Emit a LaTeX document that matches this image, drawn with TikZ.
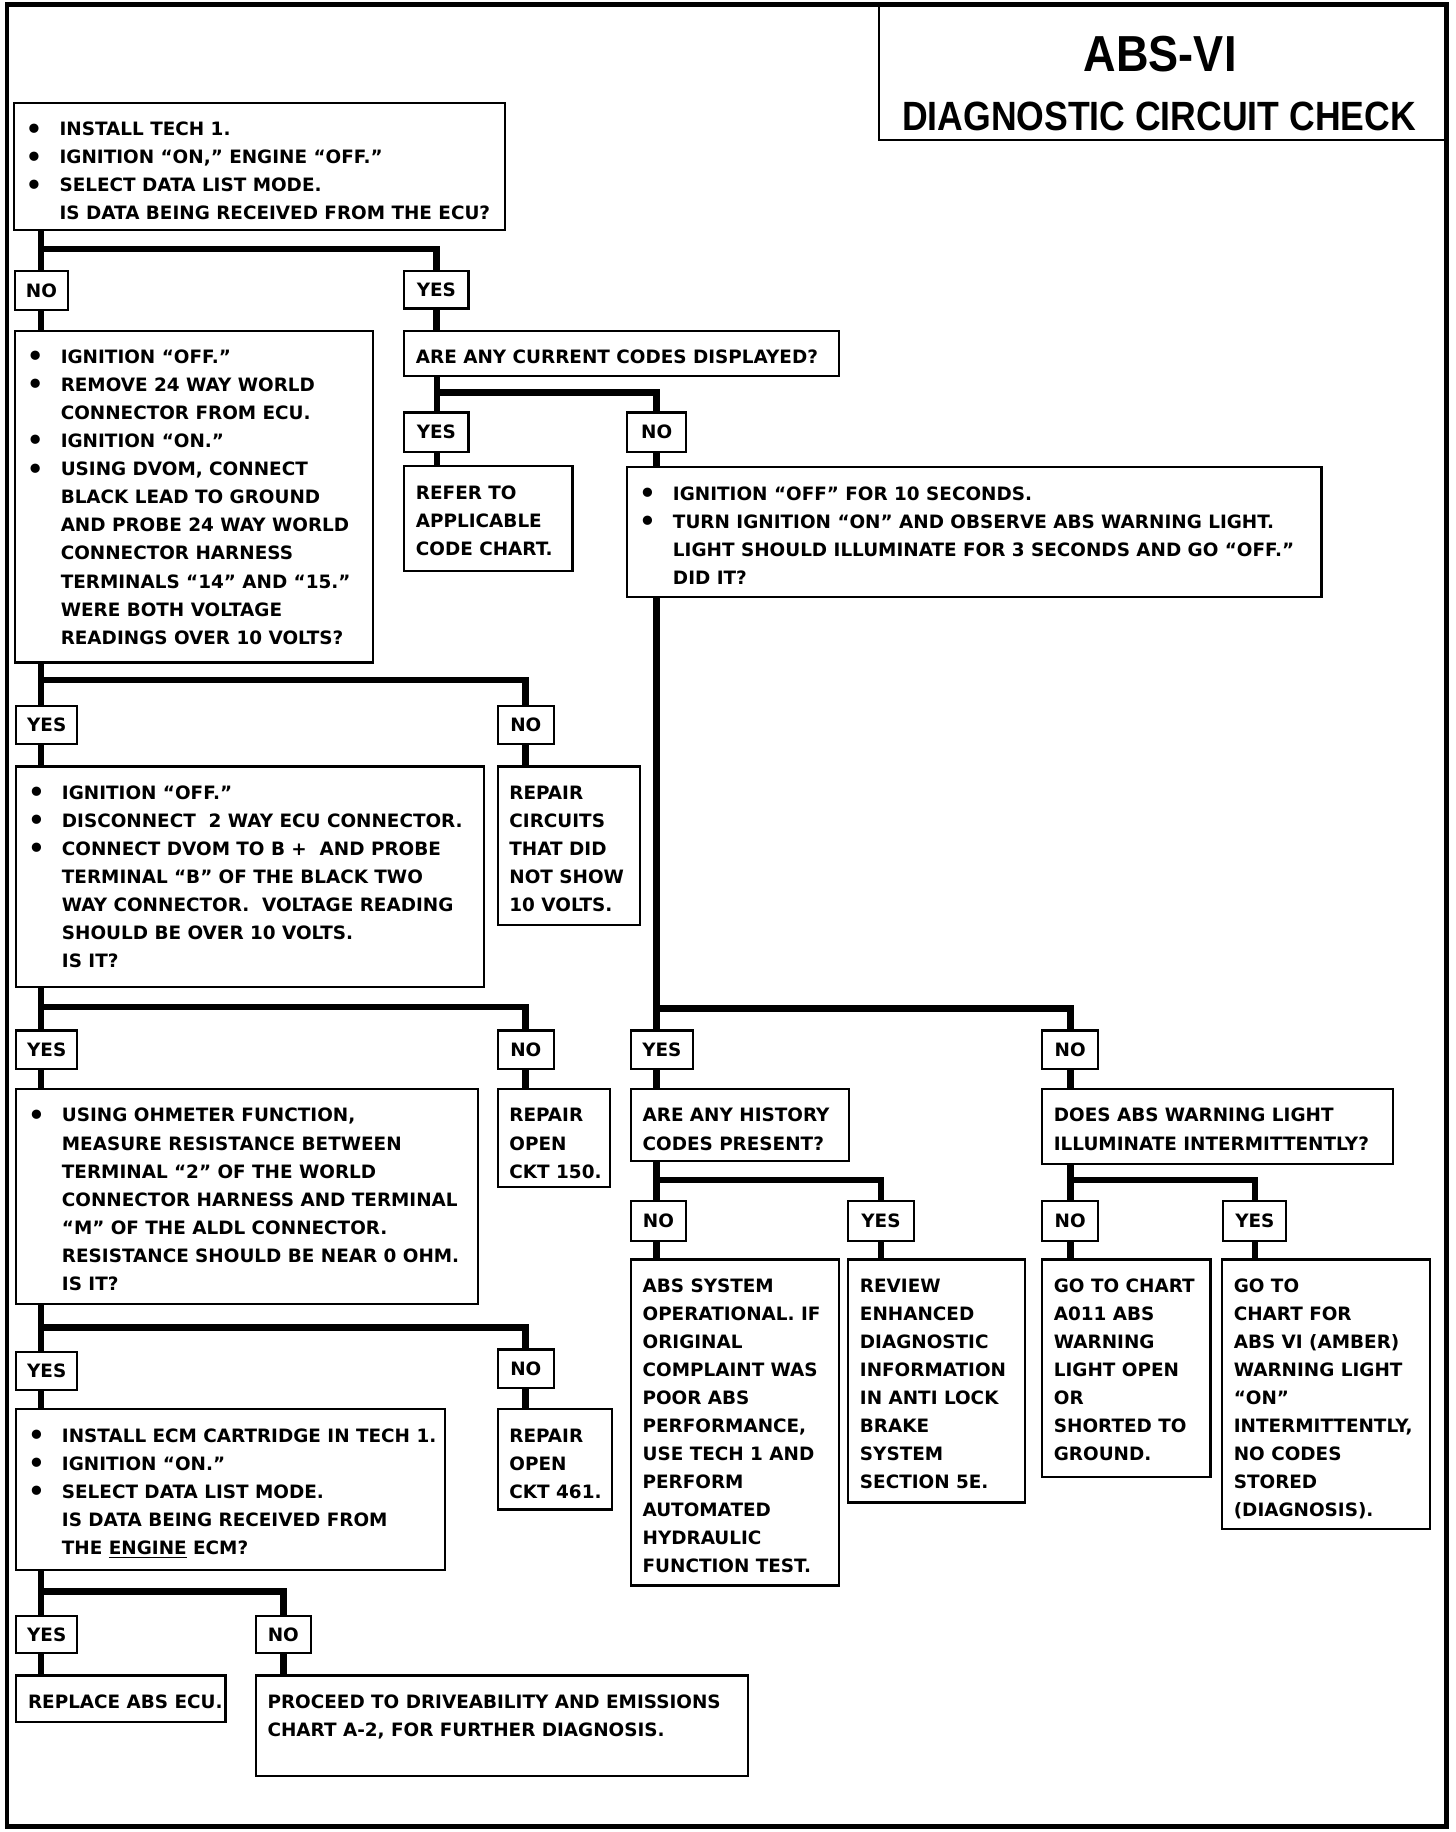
\documentclass[tikz,border=0pt]{standalone}
\usepackage{fontspec}
\usepackage{graphicx}
\setmainfont{DejaVu Sans}
\newfontfamily\titlefont{Liberation Sans}
\newlength\pxu \setlength\pxu{0.6pt}
\newcommand\bodytext{\fontsize{9.45}{14.4}\selectfont\bfseries}
\newcommand\bul{\makebox[29\pxu][l]{\raisebox{-1.1pt}{\fontsize{13.5}{13.5}\selectfont •}}}
\newcommand\ind{\hspace*{29\pxu}}
\tikzset{
 conn/.style={line width=3.4pt},
 boxs/.style={draw, line width=1.1pt, inner sep=0pt, outer sep=0pt, anchor=north west},
 txt/.style={inner sep=0pt, outer sep=0pt, anchor=north west, align=left, font=\bodytext},
 lab/.style={draw, line width=1.1pt, inner sep=0pt, outer sep=0pt, font=\bodytext},
}
\newcommand\mkbox[6]{%
 \node[boxs, minimum width={(#4-#2)*0.6pt}, minimum height={(#5-#3)*0.6pt}] (#1) at (#2,#3) {};
 \node[txt] (#1t) at ({#2+10},{#3+11.5}) {\strut#6};
}
\newcommand\mklab[6]{%
 \node[lab, minimum width={(#4-#2)*0.6pt}, minimum height={(#5-#3)*0.6pt}] (#1) at ({(#2+#4)/2},{(#3+#5)/2}) {#6};
}
\begin{document}
\begin{tikzpicture}[x=0.6pt,y=-0.6pt]
\useasboundingbox (0,0) rectangle (1246,1568);
\fill[white] (0,0) rectangle (1246,1568);
% frame and title
\draw[line width=2.4pt] (6,4) rectangle (1238,1563);
\node[boxs, minimum width={(1238-752)*0.6pt}, minimum height={(120-4)*0.6pt}] (tbox) at (752,4) {};
\node[anchor=base, font=\titlefont\bfseries\fontsize{26}{26}\selectfont] (t1) at (993,61) {\scalebox{0.89}[1]{ABS-VI}};
\node[anchor=base, font=\titlefont\bfseries\fontsize{21}{21}\selectfont] (t2) at (992,112) {\scalebox{0.87}[1]{DIAGNOSTIC CIRCUIT CHECK}};

% boxes
\mkbox{b1}{12}{88}{432}{197}{\bul INSTALL TECH 1.\\ \bul IGNITION “ON,” ENGINE “OFF.”\\ \bul SELECT DATA LIST MODE.\\ \ind IS DATA BEING RECEIVED FROM THE ECU?}
\mkbox{b2}{13}{283}{319}{567}{\bul IGNITION “OFF.”\\ \bul REMOVE 24 WAY WORLD\\ \ind CONNECTOR FROM ECU.\\ \bul IGNITION “ON.”\\ \bul USING DVOM, CONNECT\\ \ind BLACK LEAD TO GROUND\\ \ind AND PROBE 24 WAY WORLD\\ \ind CONNECTOR HARNESS\\ \ind TERMINALS “14” AND “15.”\\ \ind WERE BOTH VOLTAGE\\ \ind READINGS OVER 10 VOLTS?}
\mkbox{b3}{346}{283}{718}{322}{ARE ANY CURRENT CODES DISPLAYED?}
\mkbox{b4}{346}{399}{490}{489}{REFER TO\\ APPLICABLE\\ CODE CHART.}
\mkbox{b5}{537}{400}{1131}{511}{\bul IGNITION “OFF” FOR 10 SECONDS.\\ \bul TURN IGNITION “ON” AND OBSERVE ABS WARNING LIGHT.\\ \ind LIGHT SHOULD ILLUMINATE FOR 3 SECONDS AND GO “OFF.”\\ \ind DID IT?}
\mkbox{b6}{540}{932}{727}{994}{ARE ANY HISTORY\\ CODES PRESENT?}
\mkbox{b7}{892}{932}{1192}{996}{DOES ABS WARNING LIGHT\\ ILLUMINATE INTERMITTENTLY?}
\mkbox{b8}{540}{1078}{718}{1357}{ABS SYSTEM\\ OPERATIONAL. IF\\ ORIGINAL\\ COMPLAINT WAS\\ POOR ABS\\ PERFORMANCE,\\ USE TECH 1 AND\\ PERFORM\\ AUTOMATED\\ HYDRAULIC\\ FUNCTION TEST.}
\mkbox{b9}{726}{1078}{877}{1286}{REVIEW\\ ENHANCED\\ DIAGNOSTIC\\ INFORMATION\\ IN ANTI LOCK\\ BRAKE\\ SYSTEM\\ SECTION 5E.}
\mkbox{b10}{892}{1078}{1036}{1264}{GO TO CHART\\ A011 ABS\\ WARNING\\ LIGHT OPEN\\ OR\\ SHORTED TO\\ GROUND.}
\mkbox{b11}{1046}{1078}{1224}{1309}{GO TO\\ CHART FOR\\ ABS VI\ (AMBER)\\ WARNING LIGHT\\ “ON”\\ INTERMITTENTLY,\\ NO CODES\\ STORED\\ (DIAGNOSIS).}
\mkbox{b12}{426}{656}{548}{792}{REPAIR\\ CIRCUITS\\ THAT DID\\ NOT SHOW\\ 10 VOLTS.}
\mkbox{b13}{14}{656}{414}{845}{\bul IGNITION “OFF.”\\ \bul DISCONNECT\ \ 2 WAY ECU CONNECTOR.\\ \bul CONNECT DVOM TO B +\ \ AND PROBE\\ \ind TERMINAL “B” OF THE BLACK TWO\\ \ind WAY CONNECTOR.\ \ VOLTAGE READING\\ \ind SHOULD BE OVER 10 VOLTS.\\ \ind IS IT?}
\mkbox{b14}{426}{932}{522}{1016}{REPAIR\\ OPEN\\ CKT 150.}
\mkbox{b15}{14}{932}{409}{1116}{\bul USING OHMETER FUNCTION,\\ \ind MEASURE RESISTANCE BETWEEN\\ \ind TERMINAL “2” OF THE WORLD\\ \ind CONNECTOR HARNESS AND TERMINAL\\ \ind “M” OF THE ALDL CONNECTOR.\\ \ind RESISTANCE SHOULD BE NEAR 0 OHM.\\ \ind IS IT?}
\mkbox{b16}{426}{1206}{524}{1292}{REPAIR\\ OPEN\\ CKT 461.}
\mkbox{b17}{14}{1206}{381}{1344}{\bul INSTALL ECM CARTRIDGE IN TECH 1.\\ \bul IGNITION “ON.”\\ \bul SELECT DATA LIST MODE.\\ \ind IS DATA BEING RECEIVED FROM\\ \ind THE \underline{ENGINE} ECM?}
\mkbox{b18}{14}{1434}{193}{1474}{REPLACE ABS ECU.}
\mkbox{b19}{219}{1434}{640}{1520}{PROCEED TO DRIVEABILITY AND EMISSIONS\\ CHART A-2, FOR FURTHER DIAGNOSIS.}

% labels
\mklab{no1}{13}{232}{58}{265}{NO}
\mklab{yes1}{346}{232}{401}{264}{YES}
\mklab{yes3}{346}{353}{401}{387}{YES}
\mklab{no3}{537}{353}{587}{387}{NO}
\mklab{yes5}{540}{882}{593}{915}{YES}
\mklab{no5}{892}{882}{940}{915}{NO}
\mklab{no6}{540}{1028}{587}{1062}{NO}
\mklab{yes6}{726}{1028}{782}{1062}{YES}
\mklab{no7}{892}{1028}{940}{1062}{NO}
\mklab{yes7}{1047}{1028}{1101}{1062}{YES}
\mklab{yes2}{14}{604}{66}{637}{YES}
\mklab{no2}{426}{604}{474}{637}{NO}
\mklab{yes4}{14}{882}{66}{915}{YES}
\mklab{no4}{426}{882}{474}{915}{NO}
\mklab{yes8}{14}{1157}{66}{1190}{YES}
\mklab{no8}{426}{1155}{474}{1188}{NO}
\mklab{yes9}{14}{1383}{66}{1415}{YES}
\mklab{no9}{219}{1383}{266}{1415}{NO}

% junctions
\coordinate (j1) at (35,213);
\coordinate (j3) at (374,336);
\coordinate (j5) at (562,863);
\coordinate (j6) at (562,1010);
\coordinate (j7) at (916,1010);
\coordinate (j2) at (35,582);
\coordinate (j4) at (35,862);
\coordinate (j8) at (35,1136);
\coordinate (j9) at (35,1362);

% connectors
\draw[conn] (b1.south -| j1) -- (no1.north -| j1);
\draw[conn] (j1) -| (yes1.north);
\draw[conn] (no1.south -| j1) -- (b2.north -| j1);
\draw[conn] (yes1.south) -- (b3.north -| yes1.south);

\draw[conn] (b3.south -| j3) -- (yes3.north -| j3);
\draw[conn] (j3) -| (no3.north);
\draw[conn] (yes3.south -| j3) -- (b4.north -| j3);
\draw[conn] (no3.south) -- (b5.north -| no3.south);

\draw[conn] (b5.south -| j5) -- (yes5.north -| j5);
\draw[conn] (j5) -| (no5.north);
\draw[conn] (yes5.south -| j5) -- (b6.north -| j5);
\draw[conn] (no5.south) -- (b7.north -| no5.south);

\draw[conn] (b6.south -| j6) -- (no6.north -| j6);
\draw[conn] (j6) -| (yes6.north);
\draw[conn] (no6.south -| j6) -- (b8.north -| j6);
\draw[conn] (yes6.south) -- (b9.north -| yes6.south);

\draw[conn] (b7.south -| j7) -- (no7.north -| j7);
\draw[conn] (j7) -| (yes7.north);
\draw[conn] (no7.south -| j7) -- (b10.north -| j7);
\draw[conn] (yes7.south) -- (b11.north -| yes7.south);

\draw[conn] (b2.south -| j2) -- (yes2.north -| j2);
\draw[conn] (j2) -| (no2.north);
\draw[conn] (yes2.south -| j2) -- (b13.north -| j2);
\draw[conn] (no2.south) -- (b12.north -| no2.south);

\draw[conn] (b13.south -| j4) -- (yes4.north -| j4);
\draw[conn] (j4) -| (no4.north);
\draw[conn] (yes4.south -| j4) -- (b15.north -| j4);
\draw[conn] (no4.south) -- (b14.north -| no4.south);

\draw[conn] (b15.south -| j8) -- (yes8.north -| j8);
\draw[conn] (j8) -| (no8.north);
\draw[conn] (yes8.south -| j8) -- (b17.north -| j8);
\draw[conn] (no8.south) -- (b16.north -| no8.south);

\draw[conn] (b17.south -| j9) -- (yes9.north -| j9);
\draw[conn] (j9) -| (no9.north);
\draw[conn] (yes9.south -| j9) -- (b18.north -| j9);
\draw[conn] (no9.south) -- (b19.north -| no9.south);
\end{tikzpicture}
\end{document}
